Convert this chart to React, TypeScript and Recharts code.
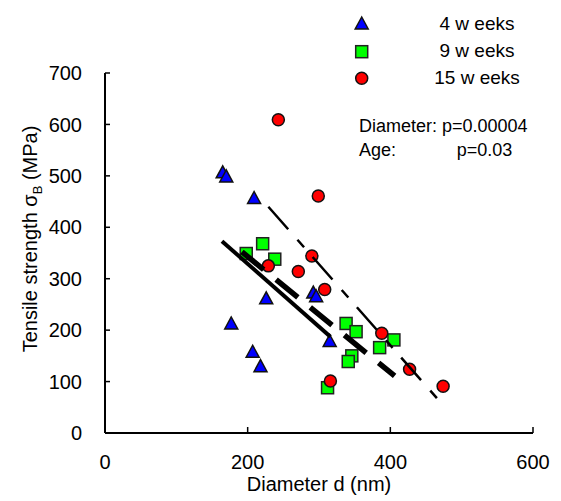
import React from 'react';
import { ScatterChart, Scatter, XAxis, YAxis } from 'recharts';

const weeks4X = [165, 170, 209, 226, 177, 207, 218, 292, 296, 315];
const weeks4Y = [506, 498, 456, 261, 212, 157, 129, 272, 265, 178];

const weeks9X = [198, 221, 238, 338, 352, 405, 385, 346, 341, 312];
const weeks9Y = [349, 368, 338, 213, 197, 181, 166, 150, 139, 88];

const weeks15X = [243, 299, 290, 271, 229, 308, 388, 427, 474, 316];
const weeks15Y = [609, 461, 344, 314, 325, 279, 194, 124, 91, 101];

// regression lines (end points)
const fit4X = [164, 316];
const fit4Y = [373, 187];
const fit9X = [192, 406];
const fit9Y = [352, 111];
const fit15X = [229, 469];
const fit15Y = [440, 62];

const xTicks = [0, 200, 400, 600];
const yTicks = [0, 100, 200, 300, 400, 500, 600, 700];

const legendLabels = ['4 w eeks', '9 w eeks', '15 w eeks'];

const toPoints = (xs: number[], ys: number[]) => xs.map((x, i) => ({ x, y: ys[i] }));

const FONT = '"Liberation Sans", Arial, sans-serif';

const Triangle = ({ cx, cy }: any) => (
  <polygon
    points={`${cx},${cy - 7} ${cx - 6.5},${cy + 5} ${cx + 6.5},${cy + 5}`}
    fill="#0000ff"
    stroke="#111"
    strokeWidth={1.5}
  />
);
const Square = ({ cx, cy }: any) => (
  <rect x={cx - 6} y={cy - 6} width={12} height={12} fill="#00ff00" stroke="#222" strokeWidth={1.5} />
);
const Dot = ({ cx, cy }: any) => (
  <circle cx={cx} cy={cy} r={6} fill="#ff0000" stroke="#111" strokeWidth={1.5} />
);
const NoShape = () => <g />;

export default function App() {
  return (
    <div style={{ position: 'absolute', left: 0, top: 0, width: 561, height: 501, background: '#fff' }}>
      <ScatterChart
        width={561}
        height={501}
        margin={{ top: 73, right: 28, left: 0, bottom: 0 }}
        style={{ fontFamily: FONT }}
      >
        <XAxis
          type="number"
          dataKey="x"
          domain={[0, 600]}
          ticks={xTicks}
          height={68}
          tickSize={-6}
          tickMargin={28}
          axisLine={{ stroke: '#000', strokeWidth: 2 }}
          tickLine={{ stroke: '#000', strokeWidth: 1.5 }}
          tick={{ fill: '#000', fontSize: 20, fontFamily: FONT }}
        />
        <YAxis
          type="number"
          dataKey="y"
          domain={[0, 700]}
          ticks={yTicks}
          width={105}
          tickSize={-5}
          tickMargin={28}
          axisLine={{ stroke: '#000', strokeWidth: 2 }}
          tickLine={{ stroke: '#000', strokeWidth: 1.5 }}
          tick={{ fill: '#000', fontSize: 20, fontFamily: FONT }}
        />
        <Scatter data={toPoints(weeks4X, weeks4Y)} shape={<Triangle />} isAnimationActive={false} />
        <Scatter data={toPoints(weeks9X, weeks9Y)} shape={<Square />} isAnimationActive={false} />
        <Scatter data={toPoints(weeks15X, weeks15Y)} shape={<Dot />} isAnimationActive={false} />
        <Scatter
          data={toPoints(fit4X, fit4Y)}
          shape={<NoShape />}
          line={{ stroke: '#000', strokeWidth: 4 }}
          isAnimationActive={false}
        />
        <Scatter
          data={toPoints(fit9X, fit9Y)}
          shape={<NoShape />}
          line={{ stroke: '#000', strokeWidth: 5.5, strokeDasharray: '28 16' }}
          isAnimationActive={false}
        />
        <Scatter
          data={toPoints(fit15X, fit15Y)}
          shape={<NoShape />}
          line={{ stroke: '#000', strokeWidth: 2.5, strokeDasharray: '30 14 10 13' }}
          isAnimationActive={false}
        />
      </ScatterChart>

      <svg
        width={561}
        height={501}
        style={{ position: 'absolute', left: 0, top: 0, pointerEvents: 'none', fontFamily: FONT }}
      >
        <text transform="translate(37,239) rotate(-90)" textAnchor="middle" fontSize={20} fill="#000">
          Tensile strength σ
          <tspan fontSize={13} dy={5}>B</tspan>
          <tspan dy={-5}> (MPa)</tspan>
        </text>
        <text x={319} y={491} textAnchor="middle" fontSize={20} fill="#000">
          Diameter d (nm)
        </text>

        <Triangle cx={361.7} cy={24} />
        <Square cx={361.7} cy={51.7} />
        <Dot cx={361.7} cy={78.3} />
        {legendLabels.map((t, i) => (
          <text key={t} x={477} y={30 + i * 26.8} textAnchor="middle" fontSize={19} fill="#000">
            {t}
          </text>
        ))}

        <text x={359} y={132} fontSize={18} fill="#000">
          Diameter: p=0.00004
        </text>
        <text x={359} y={156} fontSize={18} fill="#000">
          Age:<tspan x={456.7}>p=0.03</tspan>
        </text>
      </svg>
    </div>
  );
}
